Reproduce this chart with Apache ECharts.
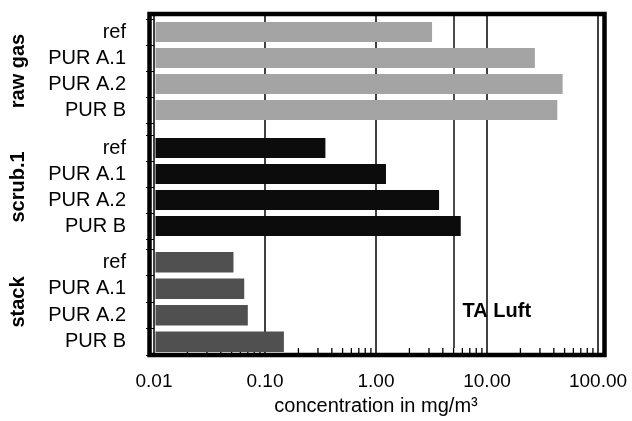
<!DOCTYPE html>
<html><head><meta charset="utf-8">
<script src="https://cdn.jsdelivr.net/npm/echarts@6/dist/echarts.min.js"></script>
<style>html,body{margin:0;padding:0;background:#fff}#c{width:632px;height:421px}</style>
</head><body><div id="c"></div>
<script>
const categories = ['ref', 'PUR A.1', 'PUR A.2', 'PUR B'];
const groupNames = ['raw gas', 'scrub.1', 'stack'];
const rawGas = [3.2, 27, 48, 43];
const scrub1 = [0.35, 1.23, 3.7, 5.8];
const stack = [0.052, 0.065, 0.070, 0.148];
const taLuft = 5;
const taLuftLabel = 'TA Luft';
const tickLabels = ['0.01', '0.10', '1.00', '10.00', '100.00'];
const axisTitle = 'concentration in mg/m³';
const xMin = 0.01, xMax = 100;

const groupValues = [rawGas, scrub1, stack];
const groupColors = ['#a4a4a4', '#0c0c0c', '#505050'];
const FONT = '"Liberation Sans", Arial, Helvetica, sans-serif';

const minorTicks = [];
for (let d = xMin; d < xMax; d *= 10) {
  for (let k = 2; k <= 9; k++) minorTicks.push(+(d * k).toPrecision(3));
}

const chart = echarts.init(document.getElementById('c'), null, {renderer: 'canvas'});

const grids = [
  {left: 154, right: 34, top: 14, bottom: 66},
  {left: 154, right: 34, top: 19, height: 104},
  {left: 154, right: 34, top: 135, height: 104},
  {left: 154, right: 34, top: 249, height: 106}
];

const xAxes = [{
  gridIndex: 0, type: 'log', logBase: 10, min: xMin, max: xMax,
  axisLine: {show: false},
  axisTick: {show: true, length: 9, lineStyle: {color: '#000', width: 1.5}},
  axisLabel: {
    color: '#000', fontSize: 19, fontFamily: FONT, margin: 24,
    formatter: v => tickLabels[Math.round(Math.log10(v) - Math.log10(xMin))]
  },
  splitLine: {show: true, lineStyle: {color: '#000', width: 1.5}},
  name: axisTitle, nameLocation: 'middle', nameGap: 46,
  nameTextStyle: {color: '#000', fontSize: 20, fontFamily: FONT}
}];
const yAxes = [{gridIndex: 0, type: 'value', min: 0, max: 1, show: false}];
const series = [];

groupValues.forEach((vals, g) => {
  const gi = g + 1;
  xAxes.push({gridIndex: gi, type: 'log', logBase: 10, min: xMin, max: xMax, show: false});
  yAxes.push({
    gridIndex: gi, type: 'category', data: categories, inverse: true,
    axisLine: {show: false},
    axisTick: {show: true, length: 8, lineStyle: {color: '#000', width: 1}},
    axisLabel: {color: '#000', fontSize: 20, fontFamily: FONT, margin: 28, interval: 0, hideOverlap: false},
    splitLine: {show: false},
    name: groupNames[g], nameLocation: 'middle', nameRotate: 90, nameGap: 126,
    nameTextStyle: {color: '#000', fontSize: 20, fontWeight: 'bold', fontFamily: FONT}
  });
  series.push({
    type: 'custom', xAxisIndex: gi, yAxisIndex: gi, z: 5,
    data: vals.map((v, j) => [v, j]),
    renderItem: (params, api) => {
      const s = api.coord([xMin, api.value(1)]);
      const e = api.coord([api.value(0), api.value(1)]);
      const h = api.size([1, 1])[1] * 0.77;
      return {
        type: 'rect',
        shape: {x: s[0] + 1.5, y: s[1] - h / 2, width: e[0] - s[0] - 1.5, height: h},
        style: {fill: groupColors[g]}
      };
    }
  });
});

// minor ticks along the bottom axis
series.push({
  type: 'custom', xAxisIndex: 0, yAxisIndex: 0, clip: false, silent: true,
  data: minorTicks.map(v => [v, 0]),
  renderItem: (params, api) => {
    const p = api.coord([api.value(0), 0]);
    return {type: 'line', shape: {x1: p[0], y1: p[1], x2: p[0], y2: p[1] + 6},
      style: {stroke: '#000', lineWidth: 1.3}};
  }
});

// TA Luft limit line
series.push({
  type: 'line', xAxisIndex: 0, yAxisIndex: 0, data: [],
  markLine: {
    silent: true, symbol: 'none', animation: false,
    label: {show: false},
    lineStyle: {color: '#111', width: 1.5, type: 'solid'},
    data: [{xAxis: taLuft}]
  }
});

chart.setOption({
  animation: false,
  backgroundColor: '#fff',
  grid: grids,
  xAxis: xAxes,
  yAxis: yAxes,
  series: series
});

const taX = chart.convertToPixel({xAxisIndex: 0}, taLuft);
chart.setOption({
  graphic: [
    {type: 'rect', z: 100, silent: true,
      shape: {x: 149.5, y: 14, width: 455, height: 341},
      style: {fill: null, stroke: '#000', lineWidth: 4.5}},
    {type: 'text', z: 100, silent: true, x: taX + 9, y: 311,
      style: {text: taLuftLabel, font: 'bold 20px ' + FONT, fill: '#000',
        textAlign: 'left', textVerticalAlign: 'middle'}}
  ]
});
</script>
</body></html>
